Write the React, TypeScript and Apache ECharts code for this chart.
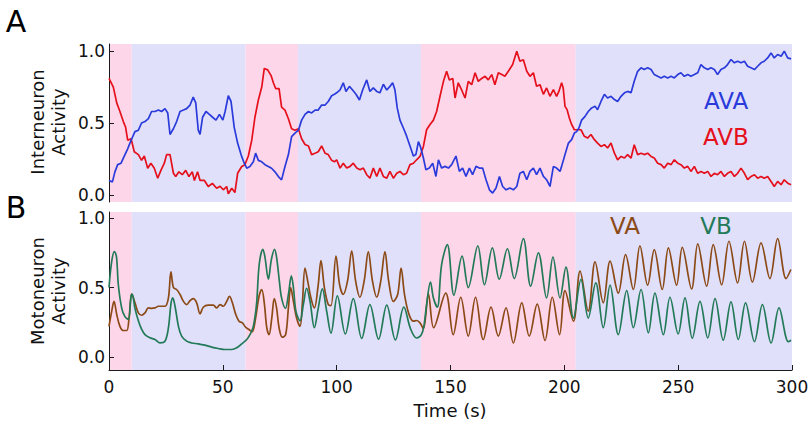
import React, { useEffect, useRef } from 'react';
import * as echarts from 'echarts';

const SHADE_EDGES = [0, 10, 60, 83, 137, 205, 300];
const SHADE_KIND = [0, 1, 0, 1, 0, 1];
const Y_TICKS = [0, 0.5, 1];

const AVA: number[][] = [
  [0, 0.1], [1.5, 0.09], [2.6, 0.16], [3.8, 0.21], [5.3, 0.22], [6.7, 0.27], [8.2, 0.32], [9.7, 0.38], [11.4, 0.44], [12.9, 0.45],
  [14.3, 0.5], [15.8, 0.51], [17.3, 0.53], [18.7, 0.58], [20.2, 0.58], [21.7, 0.59], [23.1, 0.58], [24.6, 0.6], [25.8, 0.57], [26.8, 0.42],
  [28.3, 0.46], [29.7, 0.51], [31.2, 0.58], [32.7, 0.59], [34.1, 0.6], [35.6, 0.625], [37, 0.68], [38.1, 0.64], [39.2, 0.45], [40, 0.42],
  [41.1, 0.54], [42.6, 0.58], [44.1, 0.56], [45.5, 0.54], [47, 0.52], [48.5, 0.56], [50, 0.52], [51, 0.58], [52.4, 0.69], [53.6, 0.65],
  [55, 0.47], [56.5, 0.36], [58, 0.28], [59.4, 0.22], [60.5, 0.185], [61.9, 0.197], [63.4, 0.23], [64.4, 0.29], [65.6, 0.24], [67.1, 0.23],
  [68.5, 0.21], [70, 0.197], [71.4, 0.185], [72.9, 0.16], [74.4, 0.127], [75.8, 0.104], [77.3, 0.197], [78.8, 0.28], [80.2, 0.405], [81.7, 0.43],
  [83.2, 0.45], [84.6, 0.52], [86.1, 0.56], [87.6, 0.58], [89, 0.57], [90.5, 0.59], [91.9, 0.59], [93.4, 0.625], [94.9, 0.625], [96.3, 0.65],
  [97.8, 0.69], [99, 0.7], [100, 0.71], [101.5, 0.73], [102.9, 0.78], [104.1, 0.72], [105.6, 0.755], [107, 0.73], [108.5, 0.7], [110, 0.66],
  [111.4, 0.73], [113.2, 0.8], [114.6, 0.72], [116.1, 0.745], [117.6, 0.72], [119, 0.71], [120.5, 0.77], [122, 0.73], [123.4, 0.755], [124.6, 0.78],
  [125.6, 0.73], [126.6, 0.605], [127.8, 0.52], [129.3, 0.465], [130.7, 0.41], [132.2, 0.34], [133.7, 0.27], [134.8, 0.28], [135.9, 0.37], [136.9, 0.33],
  [138.1, 0.256], [139.2, 0.174], [140.7, 0.186], [142.2, 0.22], [143.6, 0.128], [144.7, 0.244], [146.1, 0.186], [147.6, 0.198], [149.1, 0.186], [150.5, 0.21],
  [152.4, 0.27], [153.9, 0.163], [155.3, 0.186], [156.8, 0.128], [158.3, 0.186], [159.7, 0.14], [161.2, 0.198], [162.7, 0.186], [164.1, 0.186], [165.6, 0.105],
  [167.1, 0.035], [168.5, 0.012], [170, 0.047], [171.5, 0.128], [172.9, 0.058], [174.4, 0.035], [176.1, 0.047], [177.6, 0.035], [179.1, 0.058], [180.5, 0.15],
  [182, 0.163], [183.5, 0.105], [184.9, 0.163], [186.4, 0.186], [187.8, 0.14], [189.3, 0.186], [190.8, 0.128], [192.2, 0.105], [193.7, 0.058], [195.2, 0.198],
  [196.6, 0.186], [198.1, 0.163], [198.8, 0.198], [200.3, 0.28], [201.8, 0.36], [203.2, 0.384], [204.4, 0.43], [205.4, 0.44], [206.4, 0.465], [207.6, 0.52],
  [209.1, 0.546], [210.5, 0.58], [212, 0.605], [213.5, 0.616], [214.6, 0.593], [216.1, 0.65], [217.6, 0.7], [219, 0.674], [220.5, 0.686], [222, 0.663],
  [223.4, 0.65], [224.9, 0.686], [226.4, 0.71], [227.8, 0.72], [229.3, 0.71], [230.7, 0.79], [232.2, 0.86], [233.7, 0.884], [235.1, 0.872], [236.6, 0.884],
  [238.1, 0.872], [239.5, 0.837], [241, 0.825], [242.5, 0.814], [243.9, 0.825], [245.4, 0.814], [246.9, 0.825], [248.3, 0.814], [249.8, 0.837], [251.2, 0.85],
  [252.7, 0.825], [254.2, 0.837], [255.6, 0.825], [257.1, 0.837], [258.6, 0.85], [260, 0.907], [261.5, 0.884], [263, 0.872], [264.4, 0.884], [265.9, 0.872],
  [267.3, 0.837], [268.8, 0.872], [270.3, 0.884], [271.7, 0.907], [273.2, 0.942], [274.7, 0.919], [276.1, 0.93], [277.6, 0.919], [279.1, 0.93], [280.5, 0.895],
  [282, 0.884], [283.5, 0.872], [284.9, 0.895], [286.4, 0.919], [287.8, 0.93], [289.3, 0.953], [290.8, 0.988], [292.2, 0.953], [293.7, 0.977], [295.2, 0.965],
  [296.6, 1.0], [298.1, 0.953], [299.6, 0.946],
];

const AVB: number[][] = [
  [0, 0.81], [1.9, 0.75], [3.4, 0.64], [4.8, 0.58], [6.3, 0.51], [7.3, 0.47], [8.2, 0.38], [9.7, 0.39], [11.1, 0.3], [12.9, 0.28],
  [14.3, 0.24], [15.5, 0.27], [17, 0.185], [18.4, 0.22], [19.9, 0.185], [21.4, 0.115], [22.8, 0.17], [24.3, 0.22], [25.3, 0.28], [26.8, 0.28],
  [28.3, 0.15], [29.3, 0.127], [30.7, 0.16], [32.2, 0.14], [33.7, 0.17], [35.1, 0.127], [36.6, 0.16], [37.5, 0.1], [38.9, 0.16], [40, 0.1],
  [41.9, 0.1], [43.6, 0.058], [45.4, 0.08], [47.3, 0.046], [48.8, 0.06], [50.2, 0.035], [51.7, 0.058], [52.4, 0.007], [53.9, 0.046], [55.3, 0.016],
  [56.5, 0.15], [58.3, 0.197], [59.7, 0.21], [61.2, 0.27], [62.7, 0.38], [64.1, 0.54], [65.6, 0.66], [67.1, 0.75], [68.2, 0.88], [69.7, 0.87],
  [71.2, 0.83], [72.2, 0.78], [73.2, 0.74], [74.7, 0.74], [75.8, 0.61], [77.3, 0.59], [78.8, 0.53], [80.2, 0.46], [81.7, 0.45], [83.2, 0.46],
  [84.6, 0.39], [86.1, 0.35], [87.6, 0.34], [89, 0.28], [90.5, 0.29], [91.9, 0.3], [93.4, 0.34], [94.9, 0.29], [96.3, 0.28], [97.8, 0.24],
  [99, 0.23], [100, 0.244], [101.5, 0.186], [102.9, 0.22], [104.4, 0.186], [105.9, 0.198], [107.3, 0.22], [108.8, 0.186], [110.3, 0.174], [111.7, 0.186],
  [113.2, 0.14], [114.6, 0.116], [116.1, 0.186], [117.6, 0.128], [119, 0.186], [120.5, 0.128], [122, 0.116], [123.4, 0.163], [124.9, 0.116], [126.4, 0.15],
  [127.8, 0.163], [129.3, 0.14], [130.7, 0.15], [132.2, 0.21], [133.7, 0.22], [135.1, 0.244], [136.6, 0.267], [138.1, 0.337], [139.5, 0.453], [141, 0.49],
  [142.5, 0.52], [143.9, 0.58], [145.4, 0.686], [146.9, 0.79], [148.3, 0.86], [149.5, 0.8], [151, 0.81], [152, 0.674], [153.4, 0.78], [154.9, 0.73],
  [156.4, 0.674], [157.8, 0.79], [159.3, 0.767], [160.8, 0.85], [162.2, 0.79], [163.7, 0.81], [165.2, 0.825], [166.6, 0.8], [168.1, 0.837], [169.5, 0.767],
  [171, 0.85], [172.5, 0.837], [173.9, 0.825], [175.4, 0.86], [177.3, 0.907], [179.1, 1.0], [180.5, 0.93], [182, 0.94], [183.5, 0.86], [184.9, 0.825],
  [186.4, 0.85], [187.8, 0.756], [189.3, 0.767], [190.8, 0.7], [192.2, 0.744], [193.7, 0.686], [195.2, 0.733], [196.6, 0.686], [197.6, 0.72], [198.8, 0.78],
  [199.5, 0.744], [200.3, 0.616], [201.2, 0.593], [202.2, 0.535], [203.2, 0.49], [204.4, 0.453], [205.9, 0.453], [207.3, 0.453], [208.8, 0.407], [210.2, 0.395],
  [211.7, 0.42], [213.2, 0.384], [214.6, 0.36], [216.1, 0.337], [217.6, 0.349], [219, 0.326], [220.5, 0.36], [222, 0.29], [223.4, 0.244], [224.9, 0.267],
  [226.4, 0.256], [227.8, 0.28], [229.3, 0.256], [230.7, 0.349], [232.2, 0.28], [233.7, 0.29], [235.1, 0.28], [236.6, 0.29], [238.1, 0.267], [239.5, 0.256],
  [241, 0.22], [242.5, 0.21], [243.9, 0.186], [245.4, 0.22], [246.9, 0.21], [248.3, 0.244], [249.8, 0.22], [251.2, 0.21], [252.7, 0.186], [254.2, 0.198],
  [255.6, 0.163], [257.1, 0.198], [258.6, 0.15], [260, 0.163], [261.5, 0.15], [263, 0.163], [264.4, 0.128], [265.9, 0.15], [267.3, 0.14], [268.8, 0.163],
  [270.3, 0.128], [271.7, 0.15], [273.2, 0.163], [274.7, 0.128], [276.1, 0.15], [277.6, 0.186], [279.1, 0.15], [280.5, 0.105], [282, 0.128], [283.5, 0.14],
  [284.9, 0.116], [286.4, 0.128], [287.8, 0.116], [289.3, 0.128], [290.8, 0.093], [292.2, 0.058], [293.7, 0.093], [295.2, 0.07], [296.6, 0.105], [298.1, 0.081],
  [299.6, 0.07],
];

const VA: number[][] = [
  [0, 0.22], [1.2, 0.33], [2.2, 0.4], [3.4, 0.305], [4.8, 0.22], [6.3, 0.19], [7.8, 0.19], [8.8, 0.28], [10, 0.455], [11.4, 0.39],
  [12.9, 0.317], [14.3, 0.3], [15.8, 0.317], [17.3, 0.353], [18.7, 0.35], [20.2, 0.353], [21.7, 0.365], [23.1, 0.365], [24.6, 0.365], [26.1, 0.425],
  [27.2, 0.613], [28.3, 0.5], [29.7, 0.486], [31.2, 0.45], [32.7, 0.4], [34.1, 0.377], [35.6, 0.406], [37, 0.42], [38.5, 0.39], [40, 0.31],
  [41.4, 0.358], [43.6, 0.373], [45.8, 0.373], [47.3, 0.353], [48.8, 0.377], [50.2, 0.365], [51.7, 0.4], [52.9, 0.437], [54.2, 0.39], [55.6, 0.31],
  [57.1, 0.257], [58.6, 0.245], [60, 0.214], [61.5, 0.197], [62.9, 0.18], [64.4, 0.28], [65.9, 0.437], [67.1, 0.486], [68.2, 0.39], [69.3, 0.21],
  [70.3, 0.16], [71.5, 0.28], [72.6, 0.42], [73.6, 0.353], [74.7, 0.21], [76.1, 0.142], [77.6, 0.16], [78.8, 0.353], [79.8, 0.5], [81, 0.4],
  [82.4, 0.28], [83.9, 0.22], [84.9, 0.377], [86.1, 0.64], [87.3, 0.545], [88.7, 0.425], [90.2, 0.353], [91.9, 0.52], [93.1, 0.695], [94.6, 0.5],
  [96.3, 0.377], [97.5, 0.37], [99.7, 0.726], [101.3, 0.52], [102.9, 0.45], [104.8, 0.55], [106.6, 0.762], [108.3, 0.55], [110.2, 0.43], [112.1, 0.55],
  [113.9, 0.757], [115.7, 0.55], [117.6, 0.43], [119.4, 0.55], [121.2, 0.757], [122.8, 0.55], [124.9, 0.4], [126.8, 0.45], [128.3, 0.64], [129.8, 0.45],
  [131.7, 0.31], [133.7, 0.257], [135.2, 0.262], [136.6, 0.245], [138.1, 0.204], [140.3, 0.454], [142.6, 0.21], [147.9, 0.46], [151.2, 0.16], [154.5, 0.43],
  [157.8, 0.15], [161, 0.43], [164.4, 0.125], [167.8, 0.358], [171, 0.15], [174.4, 0.353], [177.6, 0.1], [181.3, 0.39], [184.6, 0.15], [188.1, 0.38],
  [191.5, 0.118], [194.7, 0.43], [197.9, 0.16], [200.3, 0.478], [204, 0.257], [206.9, 0.618], [210.5, 0.33], [213.5, 0.685], [217.1, 0.39], [220.1, 0.69],
  [223.7, 0.46], [226.9, 0.738], [230.3, 0.486], [233.2, 0.8], [236.6, 0.517], [239.5, 0.774], [243, 0.486], [245.7, 0.786], [249.3, 0.517], [251.8, 0.79],
  [255.9, 0.49], [258.6, 0.815], [262.5, 0.51], [265.4, 0.81], [269.1, 0.52], [272.3, 0.834], [276.1, 0.534], [279.1, 0.834], [282.6, 0.54], [286.4, 0.822],
  [290.3, 0.565], [293.7, 0.853], [297.4, 0.565], [299.5, 0.63],
];

const VB: number[][] = [
  [0, 0.5], [1.2, 0.69], [2.4, 0.76], [3.3, 0.72], [4.1, 0.52], [5.6, 0.35], [7, 0.29], [8.5, 0.27], [9.7, 0.44], [10.2, 0.45],
  [11.4, 0.35], [12.9, 0.26], [14.3, 0.2], [15.8, 0.16], [18, 0.137], [20.2, 0.125], [22.4, 0.1], [24.6, 0.113], [26.1, 0.21], [27.2, 0.38],
  [28, 0.425], [29, 0.365], [30.5, 0.22], [31.9, 0.15], [34.1, 0.113], [36.3, 0.1], [39.2, 0.094], [42.2, 0.084], [45.1, 0.07], [48, 0.06],
  [51, 0.053], [53.9, 0.053], [56.1, 0.065], [58.3, 0.094], [60.5, 0.125], [61.9, 0.16], [63.4, 0.22], [64.8, 0.38], [66, 0.67], [67.6, 0.776],
  [68.5, 0.72], [70, 0.56], [71.3, 0.7], [72.7, 0.776], [73.6, 0.72], [74.8, 0.55], [75.8, 0.425], [77.5, 0.35], [78.8, 0.45], [80.1, 0.585],
  [81, 0.5], [82.1, 0.33], [83.9, 0.26], [85.4, 0.38], [86.8, 0.495], [88.3, 0.4], [90.2, 0.21], [91.9, 0.35], [93.7, 0.49], [95.6, 0.33],
  [97.5, 0.17], [100.3, 0.44], [103.8, 0.165], [107.3, 0.42], [111, 0.133], [114.6, 0.377], [118.4, 0.127], [122, 0.373], [125.8, 0.122], [129.5, 0.358],
  [132.5, 0.2], [135.1, 0.136], [137.2, 0.16], [138.3, 0.22], [139.5, 0.377], [141.2, 0.54], [142.5, 0.425], [144.2, 0.358], [146.1, 0.666], [148.6, 0.81],
  [151.5, 0.445], [155.1, 0.726], [157.8, 0.5], [162, 0.8], [164.9, 0.52], [168.4, 0.786], [171.4, 0.56], [175, 0.78], [178, 0.565], [182, 0.853],
  [185.2, 0.51], [188.6, 0.75], [192.2, 0.425], [195, 0.72], [198.1, 0.425], [200.7, 0.647], [204, 0.28], [207.3, 0.558], [210.5, 0.28], [213.8, 0.534],
  [217.1, 0.21], [220.1, 0.517], [223.7, 0.16], [227.4, 0.478], [230.3, 0.21], [233.7, 0.486], [236.9, 0.173], [239.8, 0.46], [243.5, 0.16], [246.4, 0.43],
  [250, 0.166], [253, 0.425], [256.2, 0.135], [259.6, 0.4], [263, 0.137], [266.2, 0.42], [269.8, 0.12], [273.2, 0.397], [276.4, 0.125], [279.6, 0.39],
  [283.5, 0.11], [287, 0.377], [290.8, 0.1], [294.3, 0.353], [298.4, 0.11], [299.6, 0.12],
];

const PINK = '#fdd6ea';
const LAVENDER = '#e0e0fa';
const C_AVA = '#2b3bdb';
const C_AVB = '#e5101c';
const C_VA = '#8c4a17';
const C_VB = '#237a58';
const FONT = 'DejaVu Sans';
const AXIS = '#1a1a1a';

const shadeData = SHADE_KIND.map((k, i) => [SHADE_EDGES[i], SHADE_EDGES[i + 1], k]);

function shadeSeries(idx: number) {
  return {
    type: 'custom',
    xAxisIndex: idx,
    yAxisIndex: idx,
    silent: true,
    z: 0,
    data: shadeData,
    encode: { x: [0, 1], y: 2 },
    renderItem: (params: any, api: any) => {
      const cs = params.coordSys;
      const x0 = api.coord([api.value(0), 0])[0];
      const x1 = api.coord([api.value(1), 0])[0];
      return {
        type: 'rect',
        shape: { x: x0, y: cs.y, width: x1 - x0, height: cs.height },
        style: { fill: api.value(2) === 0 ? PINK : LAVENDER },
      };
    },
  };
}

function lineSeries(idx: number, data: number[][], color: string, smooth: number | boolean) {
  return {
    type: 'line',
    xAxisIndex: idx,
    yAxisIndex: idx,
    data,
    showSymbol: false,
    symbol: 'none',
    smooth,
    z: 3,
    lineStyle: { color, width: 1.7 },
    itemStyle: { color },
  };
}

function yAxis(idx: number, min: number, max: number) {
  return {
    type: 'value',
    gridIndex: idx,
    min,
    max,
    axisLine: { show: true, onZero: false, lineStyle: { color: AXIS, width: 1 } },
    axisTick: { show: true, inside: true, length: 5, customValues: Y_TICKS, lineStyle: { color: AXIS } },
    axisLabel: {
      customValues: Y_TICKS,
      formatter: (v: number) => v.toFixed(1),
      fontSize: 17,
      fontFamily: FONT,
      color: '#111',
      margin: 4,
    },
    splitLine: { show: false },
  };
}

function label(text: string, x: number, y: number, size: number, fill: string, extra: any = {}) {
  return {
    type: 'text',
    x,
    y,
    z: 100,
    zlevel: 1,
    silent: true,
    ...extra,
    style: { text, font: `${size}px "${FONT}"`, fill, align: 'center', verticalAlign: 'middle', ...(extra.style || {}) },
  };
}

const option: any = {
  animation: false,
  backgroundColor: '#ffffff',
  grid: [
    { left: 109, right: 20, top: 44, height: 158 },
    { left: 109, right: 20, top: 212, height: 158 },
  ],
  xAxis: [
    { type: 'value', gridIndex: 0, min: 0, max: 300, interval: 50, show: false },
    {
      type: 'value',
      gridIndex: 1,
      min: 0,
      max: 300,
      interval: 50,
      axisLine: { show: true, onZero: false, lineStyle: { color: AXIS, width: 1 } },
      axisTick: { show: true, inside: true, length: 5, lineStyle: { color: AXIS } },
      axisLabel: { fontSize: 17, fontFamily: FONT, color: '#111', margin: 8 },
      splitLine: { show: false },
    },
  ],
  yAxis: [yAxis(0, -0.05, 1.05), yAxis(1, -0.095, 1.045)],
  series: [
    shadeSeries(0),
    shadeSeries(1),
    lineSeries(0, AVB, C_AVB, false),
    lineSeries(0, AVA, C_AVA, false),
    lineSeries(1, VA, C_VA, 0.35),
    lineSeries(1, VB, C_VB, 0.35),
  ],
  graphic: [
    label('A', 16, 21, 30, '#000'),
    label('B', 16, 207, 30, '#000'),
    label('Interneuron\nActivity', 48, 122, 18, '#111', { rotation: Math.PI / 2, style: { lineHeight: 21 } }),
    label('Motoneuron\nActivity', 48, 291, 18, '#111', { rotation: Math.PI / 2, style: { lineHeight: 21 } }),
    label('Time (s)', 450, 410, 18, '#111'),
    label('AVA', 726, 101, 23, C_AVA),
    label('AVB', 726, 137, 23, C_AVB),
    label('VA', 625, 226, 23, C_VA),
    label('VB', 716, 226, 23, C_VB),
  ],
};

export default function App() {
  const ref = useRef<HTMLDivElement>(null);
  useEffect(() => {
    const chart = echarts.init(ref.current as HTMLDivElement, null, { renderer: 'svg' });
    chart.setOption(option);
    return () => chart.dispose();
  }, []);
  return <div ref={ref} style={{ position: 'fixed', left: 0, top: 0, width: 812, height: 422 }} />;
}
